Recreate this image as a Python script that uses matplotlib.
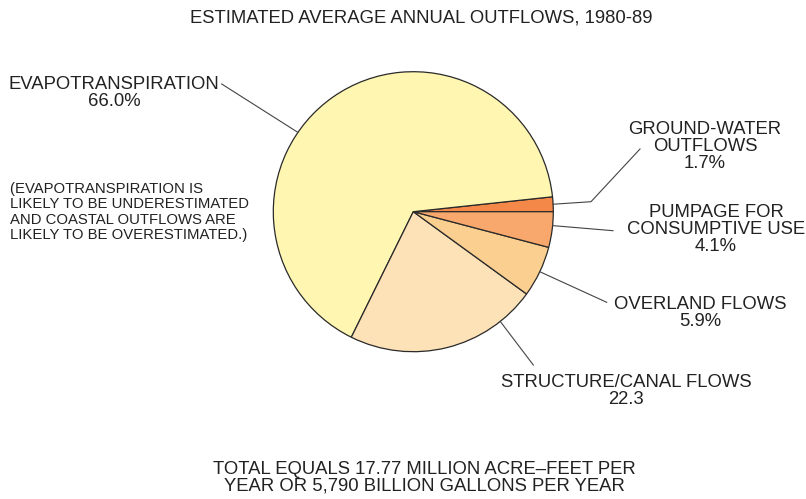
import matplotlib.pyplot as plt
import numpy as np

plt.rcParams['font.family'] = ['Liberation Sans', 'DejaVu Sans']

# outflow components, in pie order (counter-clockwise from 3 o'clock)
categories = ['GROUND-WATER\nOUTFLOWS', 'EVAPOTRANSPIRATION', 'STRUCTURE/CANAL FLOWS',
              'OVERLAND FLOWS', 'PUMPAGE FOR\nCONSUMPTIVE USE']
shares = [1.7, 66.0, 22.3, 5.9, 4.1]
value_labels = ['1.7%', '66.0%', '22.3', '5.9%', '4.1%']
colors = ['#F38848', '#FEF6B1', '#FDE2B8', '#FBCF8F', '#F8A86C']

W, H = 806, 499


def px(x, y):
    # pixel position (origin top-left) -> data coords
    return x, H - y


fig = plt.figure(figsize=(W / 100, H / 100), dpi=100)
ax = fig.add_axes([0, 0, 1, 1])

cx, cy = px(413.3, 211.7)
R = 140
wedges, _ = ax.pie(shares, startangle=0, counterclock=True, center=(cx, cy), radius=R,
                   colors=colors,
                   wedgeprops=dict(edgecolor='#2a2a2a', linewidth=0.9))
ax.set_xlim(0, W)
ax.set_ylim(0, H)
ax.set_aspect('equal')
ax.axis('off')


def rim(angle, r=R):
    a = np.deg2rad(angle)
    return cx + r * np.cos(a), cy + r * np.sin(a)


def mid(w):
    return (w.theta1 + w.theta2) / 2


line_kw = dict(color='#444444', linewidth=0.8)

# leader lines: rim anchor -> label
gw_x, gw_y = rim(mid(wedges[0]))
ax.plot([gw_x, 591, 640], [gw_y, H - 201.7, H - 149], **line_kw)

ev_x, ev_y = rim(145.5)
ax.plot([ev_x, 221.7], [ev_y, H - 84], **line_kw)

st_x, st_y = rim(-51.6)
ax.plot([st_x, 533.3], [st_y, H - 365], **line_kw)

ov_x, ov_y = rim(mid(wedges[3]))
ax.plot([ov_x, 606.7], [ov_y, H - 302.3], **line_kw)

pu_x, pu_y = rim(-5.7)
ax.plot([pu_x, 613], [pu_y, H - 230.7], **line_kw)

txt = dict(ha='center', va='top', color='#222222', fontsize=13.3, linespacing=1.0)

label_pos = [(705, 121), (114, 76), (626, 374), (700, 296), (716, 204)]
for cat, val, (x, y) in zip(categories, value_labels, label_pos):
    ax.text(*px(x, y), f'{cat}\n{val}', **txt)

ax.text(*px(421.5, 9), 'ESTIMATED AVERAGE ANNUAL OUTFLOWS, 1980-89',
        ha='center', va='top', color='#222222', fontsize=13.3)

ax.text(*px(10, 182),
        '(EVAPOTRANSPIRATION IS\nLIKELY TO BE UNDERESTIMATED\n'
        'AND COASTAL OUTFLOWS ARE\nLIKELY TO BE OVERESTIMATED.)',
        ha='left', va='top', color='#222222', fontsize=10.7, linespacing=1.12)

ax.text(*px(424.5, 461),
        'TOTAL EQUALS 17.77 MILLION ACRE\u2013FEET PER\nYEAR OR 5,790 BILLION GALLONS PER YEAR',
        ha='center', va='top', color='#222222', fontsize=13.35, linespacing=0.95)

fig.savefig('out.png', dpi=100)
